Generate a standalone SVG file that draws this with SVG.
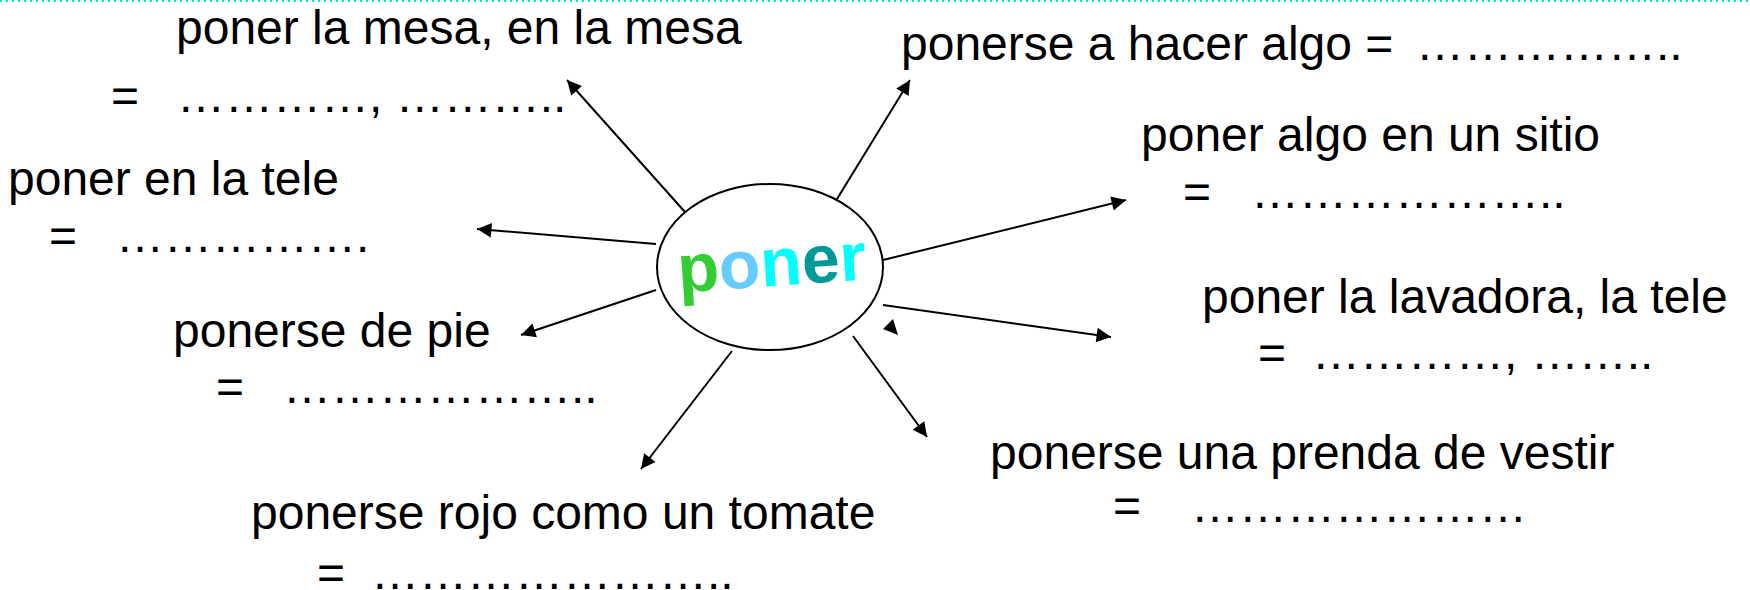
<svg xmlns="http://www.w3.org/2000/svg" width="1750" height="590" viewBox="0 0 1750 590">
<defs>
<style>
.t{font-family:"Liberation Sans",Arial,sans-serif;font-size:48px;fill:#000}
.c{stroke:#000;stroke-width:2;fill:none;marker-end:url(#ah)}
.big{font-family:"Liberation Sans",Arial,sans-serif;font-size:68px;font-weight:bold}
</style>
<marker id="ah" viewBox="0 0 10 10" refX="10" refY="5" markerWidth="8" markerHeight="8" markerUnits="userSpaceOnUse" orient="auto" style="overflow:visible">
<path d="M0,0 L10,5 L0,10 z" fill="#000" transform="scale(1.8)" transform-origin="10 5"/>
</marker>
</defs>
<rect width="1750" height="590" fill="#fff"/>
<line x1="0" y1="1" x2="1750" y2="1" stroke="#00e5e5" stroke-width="2" stroke-dasharray="2 4"/>
<g id="connectors">
<line class="c" x1="685" y1="212" x2="567" y2="80"/>
<line class="c" x1="837" y1="199" x2="910" y2="80"/>
<line class="c" x1="656" y1="244" x2="477" y2="229"/>
<line class="c" x1="656" y1="290" x2="521" y2="335"/>
<line class="c" x1="732" y1="351" x2="641" y2="469"/>
<line class="c" x1="853" y1="336" x2="927" y2="437"/>
<line class="c" x1="883" y1="305" x2="1111" y2="337"/>
<line class="c" x1="883" y1="260" x2="1126" y2="200"/>
<path d="M893,319 L883,329 L898,335 z" fill="#000"/>
</g>
<g id="center">
<ellipse cx="770" cy="267" rx="113" ry="83" fill="#fff" stroke="#000" stroke-width="2"/>
<text class="big" x="772" y="286" text-anchor="middle" transform="rotate(-4 772 270)"><tspan fill="#33cc33">p</tspan><tspan fill="#66ccff">o</tspan><tspan fill="#00ffff">n</tspan><tspan fill="#009999">e</tspan><tspan fill="#00ffff">r</tspan></text>
</g>
<g id="n-mesa">
<text class="t" x="176" y="44">poner la mesa, en la mesa</text>
<text class="t" y="112"><tspan x="111">=</tspan><tspan x="177">&#8230;&#8230;&#8230;&#8230;, &#8230;&#8230;&#8230;..</tspan></text>
</g>
<g id="n-hacer">
<text class="t" y="60"><tspan x="901">ponerse a hacer algo =</tspan><tspan x="1416">&#8230;&#8230;&#8230;&#8230;&#8230;..</tspan></text>
</g>
<g id="n-sitio">
<text class="t" x="1141" y="151">poner algo en un sitio</text>
<text class="t" y="208"><tspan x="1183">=</tspan><tspan x="1251">&#8230;&#8230;&#8230;&#8230;&#8230;&#8230;..</tspan></text>
</g>
<g id="n-tele">
<text class="t" x="8" y="195">poner en la tele</text>
<text class="t" y="252"><tspan x="49">=</tspan><tspan x="116">&#8230;&#8230;&#8230;&#8230;&#8230;.</tspan></text>
</g>
<g id="n-pie">
<text class="t" x="173" y="347">ponerse de pie</text>
<text class="t" y="403"><tspan x="216">=</tspan><tspan x="283">&#8230;&#8230;&#8230;&#8230;&#8230;&#8230;..</tspan></text>
</g>
<g id="n-lavadora">
<text class="t" x="1202" y="313">poner la lavadora, la tele</text>
<text class="t" y="369"><tspan x="1258">=</tspan><tspan x="1312">&#8230;&#8230;&#8230;&#8230;, &#8230;&#8230;..</tspan></text>
</g>
<g id="n-vestir">
<text class="t" x="990" y="469">ponerse una prenda de vestir</text>
<text class="t" y="522"><tspan x="1113">=</tspan><tspan x="1191">&#8230;&#8230;&#8230;&#8230;&#8230;&#8230;&#8230;</tspan></text>
</g>
<g id="n-tomate">
<text class="t" x="251" y="529">ponerse rojo como un tomate</text>
<text class="t" y="589"><tspan x="317">=</tspan><tspan x="371">&#8230;&#8230;&#8230;&#8230;&#8230;&#8230;&#8230;..</tspan></text>
</g>
</svg>
